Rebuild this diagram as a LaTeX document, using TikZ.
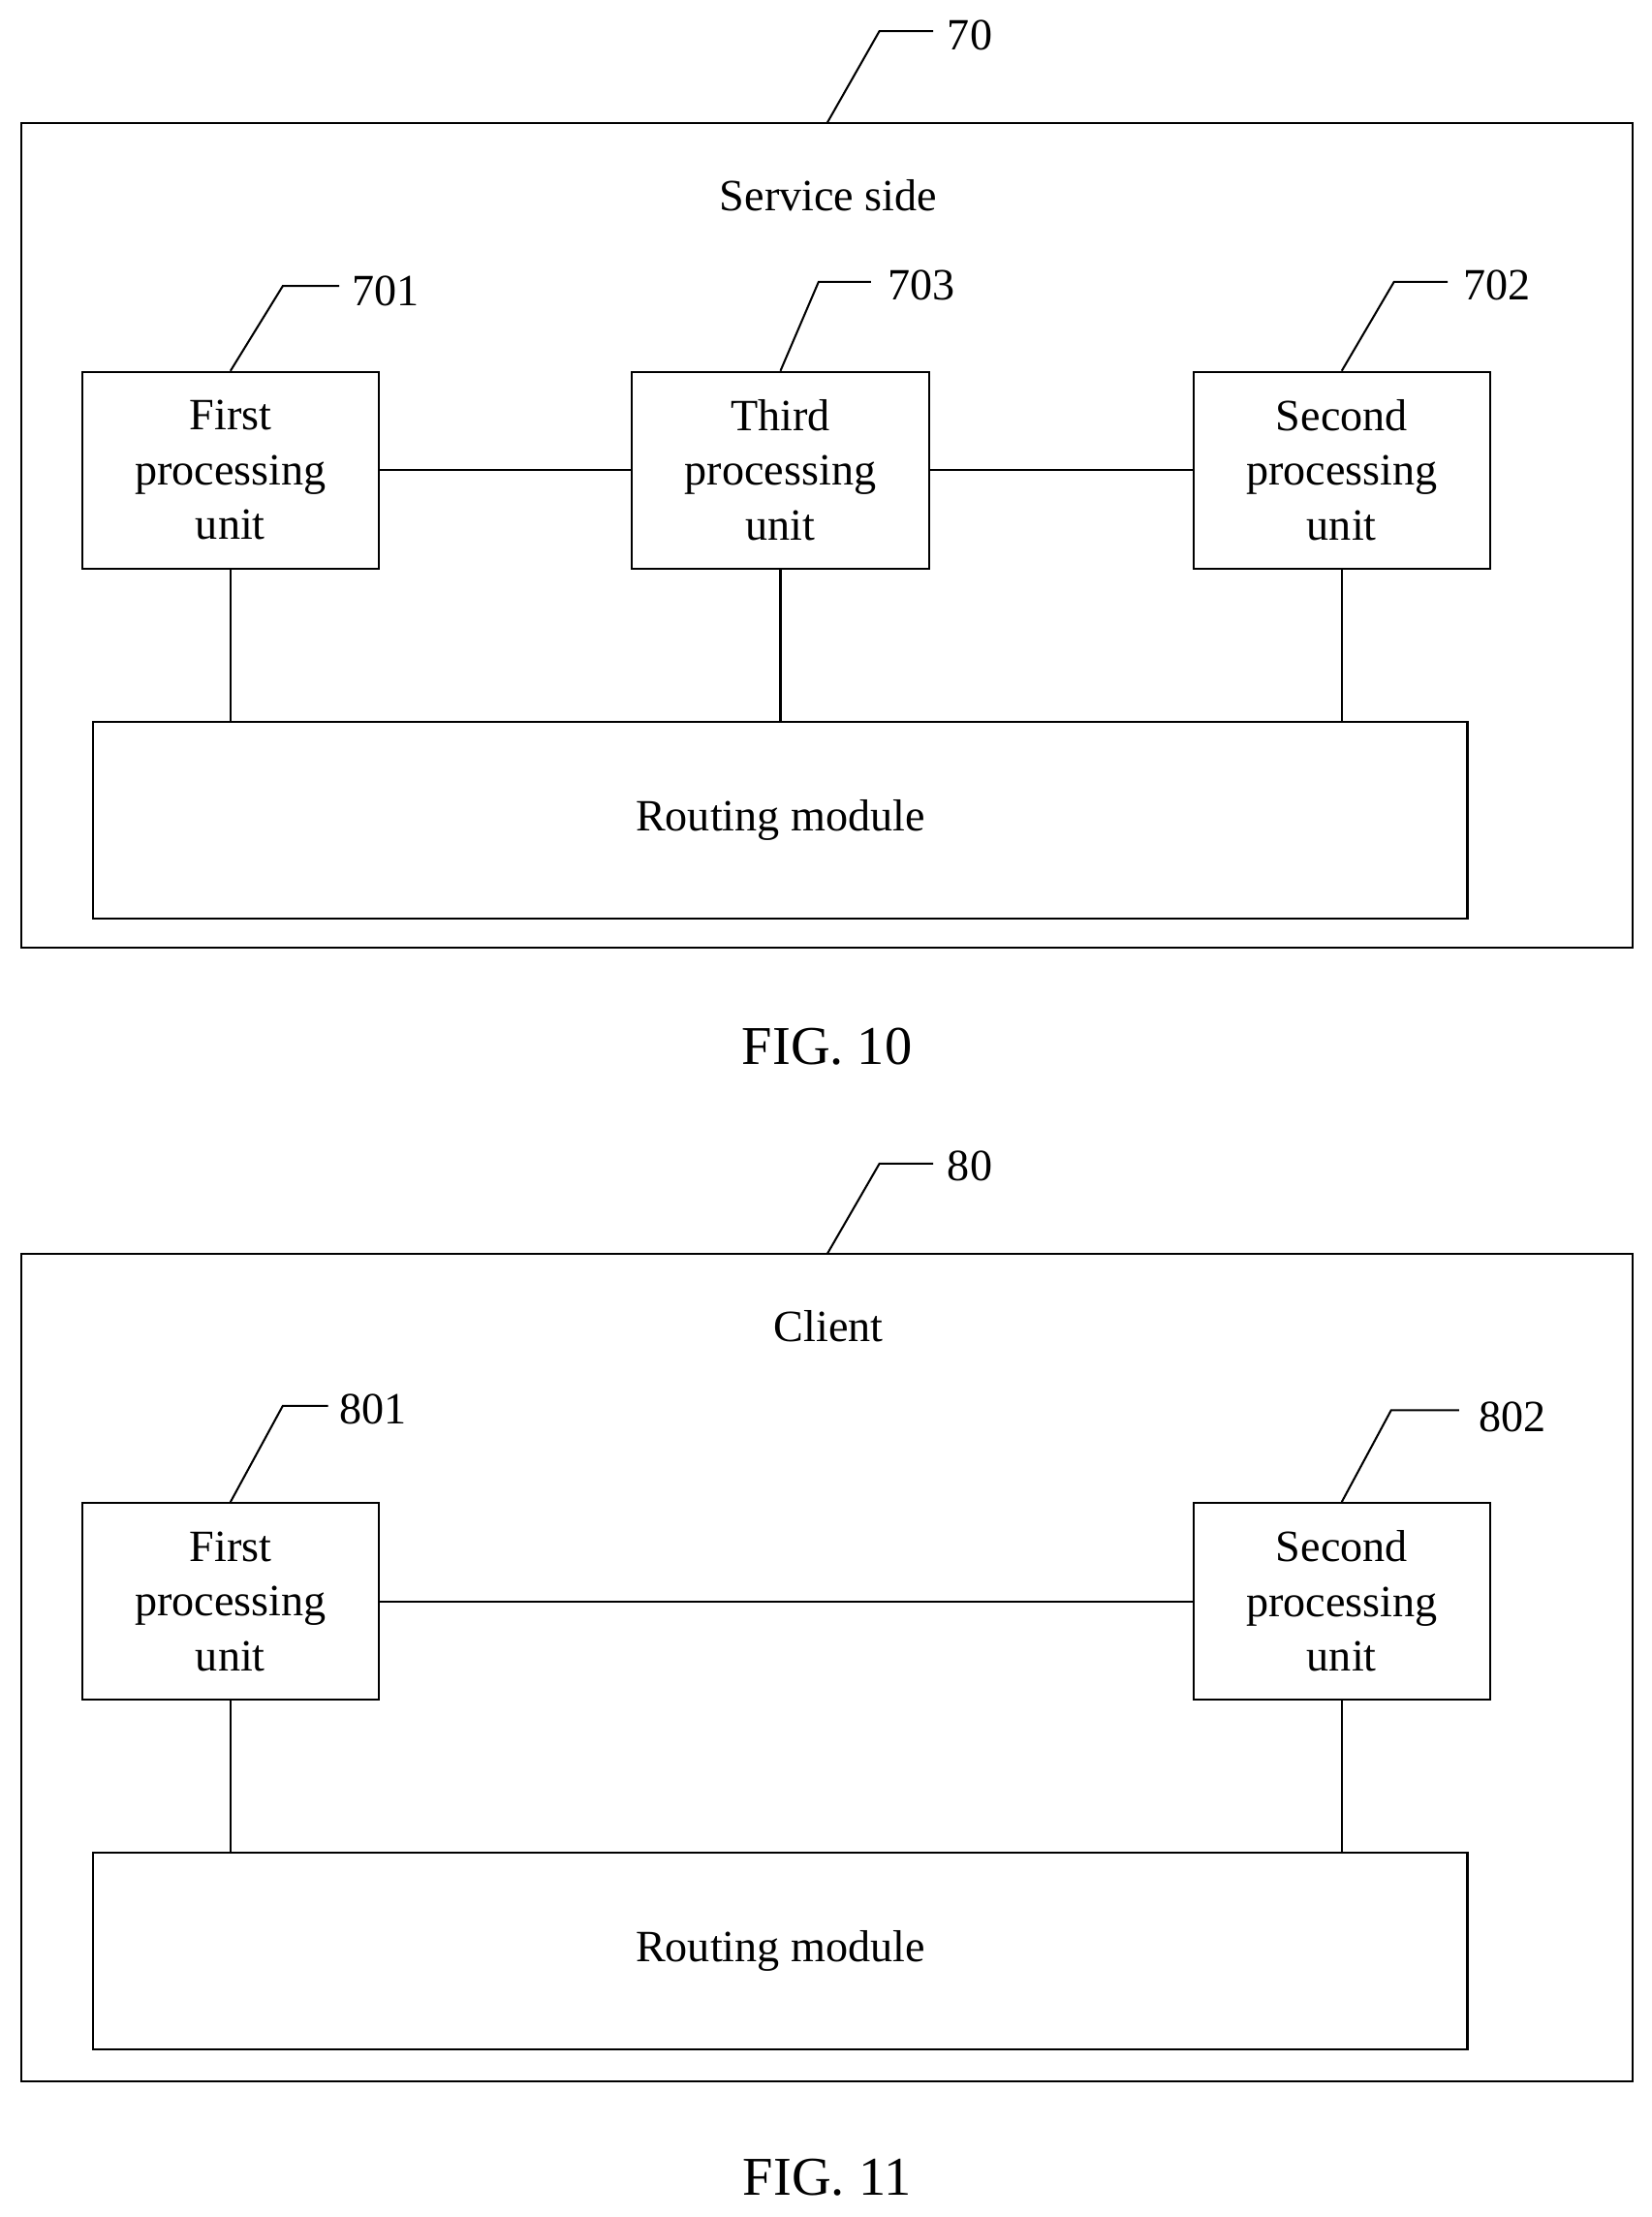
\documentclass[tikz,border=0pt]{standalone}
\usepackage{fontspec}
\setmainfont{Liberation Serif}
\usetikzlibrary{positioning}
\tikzset{
	unit/.style={draw,thick,minimum width=4.2cm,minimum height=2.78cm,align=center,font=\fontsize{18}{22}\selectfont,inner sep=0pt},
	route/.style={draw,thick,minimum width=19.44cm,minimum height=2.78cm,font=\fontsize{18}{22}\selectfont},
	lbl/.style={font=\fontsize{18}{20}\selectfont},
	fig/.style={font=\fontsize{22}{24}\selectfont}
}
\begin{document}
\begin{tikzpicture}
	[x=0.02cm,y=-0.02cm,thick]
	\useasboundingbox (0,0) rectangle (1168,1568);
	% FIG. 10
	\draw (15,87) rectangle (1155,670);
	\draw (585,87) -- (622,22) -- (660,22);
	\node[lbl] (l70) at (686,25) {70};
	\node[lbl] (srv) at (586,138) {Service side};
	\node[unit] (u701) at (163,332.5) {First\\processing\\unit};
	\node[unit] (u703) at (552,332.5) {Third\\processing\\unit};
	\node[unit] (u702) at (949,332.5) {Second\\processing\\unit};
	\node[route] (r70) at (552,580) {Routing module};
	\draw (u701.north) -- ++(37,-60) -- ++(40,0);
	\node[lbl] (l701) at (273,206) {701};
	\draw (u703.north) -- ++(27,-63) -- ++(37,0);
	\node[lbl] (l703) at (652,202) {703};
	\draw (u702.north) -- ++(37,-63) -- ++(38,0);
	\node[lbl] (l702) at (1059,202) {702};
	\foreach \from/\to in {u701/u703, u703/u702}
	\draw (\from) -- (\to);
	\foreach \u in {u701, u703, u702}
	\draw (\u.south) -- (\u.south |- r70.north);
	\node[fig] (f10) at (585,740) {FIG. 10};
	% FIG. 11
	\draw (15,887) rectangle (1155,1472);
	\draw (585,887) -- (622,823) -- (660,823);
	\node[lbl] (l80) at (686,825) {80};
	\node[lbl] (cli) at (586,938) {Client};
	\node[unit] (u801) at (163,1132.5) {First\\processing\\unit};
	\node[unit] (u802) at (949,1132.5) {Second\\processing\\unit};
	\node[route] (r80) at (552,1380) {Routing module};
	\draw (u801.north) -- ++(37,-68) -- ++(32,0);
	\node[lbl] (l801) at (264,997) {801};
	\draw (u802.north) -- ++(35,-65) -- ++(48,0);
	\node[lbl] (l802) at (1070,1002) {802};
	\draw (u801) -- (u802);
	\foreach \u in {u801, u802}
	\draw (\u.south) -- (\u.south |- r80.north);
	\node[fig] (f11) at (585,1540) {FIG. 11};
\end{tikzpicture}
\end{document}
